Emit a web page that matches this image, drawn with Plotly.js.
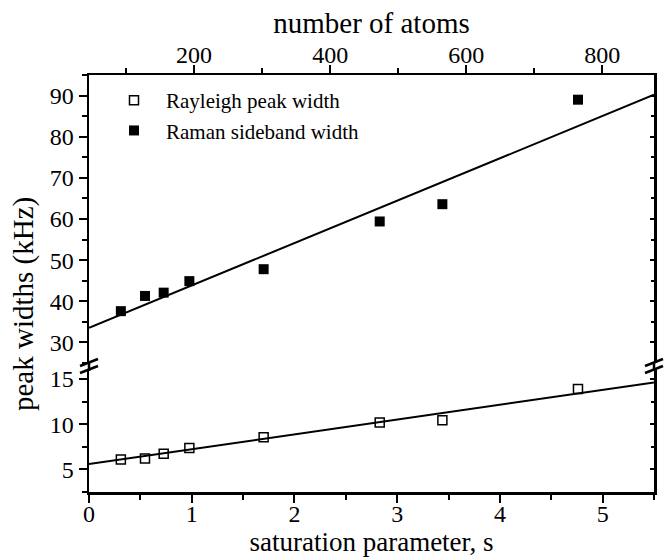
<!DOCTYPE html>
<html>
<head>
<meta charset="utf-8">
<script src="https://cdn.plot.ly/plotly-3.0.1.min.js"></script>
<style>html,body{margin:0;padding:0;background:#fff;}#chart{width:670px;height:558px;}</style>
</head>
<body>
<div id="chart"></div>
<script>
// ---- data ----
var satParam = [0.31, 0.545, 0.727, 0.977, 1.70, 2.83, 3.44, 4.76];
var rayleighWidth = [6.1, 6.22, 6.74, 7.37, 8.56, 10.2, 10.44, 13.9];
var ramanWidth = [37.6, 41.3, 42.1, 44.9, 47.8, 59.4, 63.6, 89.0];
var fitS = [0, 5.5];
var rayleighFit = [5.59, 14.63];
var ramanFit = [33.55, 90.2];
var sRange = [0, 5.5];
var atomsRange = [45.6, 876];
var upperRange = [25, 95];
var lowerRange = [2.5, 16];

var FONT = 'Liberation Serif';
var L = 89, R = 654, T = 75, B = 492, W = 670, H = 558;
function px(x) { return (x - L) / (R - L); }
function py(y) { return (B - y) / (B - T); }

var upperBottom = py(363), lowerTop = py(370);

var traces = [
  {x: satParam, y: rayleighWidth, xaxis: 'x', yaxis: 'y2', mode: 'markers', type: 'scatter',
   name: 'Rayleigh peak width',
   marker: {symbol: 'square-open', size: 9, color: '#000', line: {width: 1.5, color: '#000'}}},
  {x: satParam, y: ramanWidth, xaxis: 'x', yaxis: 'y', mode: 'markers', type: 'scatter',
   name: 'Raman sideband width',
   marker: {symbol: 'square', size: 10, color: '#000'}},
  {x: fitS, y: rayleighFit, xaxis: 'x', yaxis: 'y2', mode: 'lines', type: 'scatter',
   showlegend: false, line: {color: '#000', width: 2}, hoverinfo: 'skip'},
  {x: fitS, y: ramanFit, xaxis: 'x', yaxis: 'y', mode: 'lines', type: 'scatter',
   showlegend: false, line: {color: '#000', width: 2}, hoverinfo: 'skip'},
  // empty traces so the secondary axes (top atoms axis, right-hand ticks) are drawn
  {x: [], y: [], xaxis: 'x2', yaxis: 'y', type: 'scatter', mode: 'markers', showlegend: false, hoverinfo: 'skip'},
  {x: [], y: [], xaxis: 'x', yaxis: 'y3', type: 'scatter', mode: 'markers', showlegend: false, hoverinfo: 'skip'},
  {x: [], y: [], xaxis: 'x', yaxis: 'y4', type: 'scatter', mode: 'markers', showlegend: false, hoverinfo: 'skip'}
];

var axLine = {showline: true, linecolor: '#000', linewidth: 2.5, showgrid: false, zeroline: false,
  ticks: 'outside', ticklen: 8, tickwidth: 2, tickcolor: '#000',
  tickfont: {family: FONT, size: 24, color: '#000'}};

function ax(extra) { return Object.assign({}, axLine, extra); }
function minorT(d) { return {dtick: d, ticks: 'outside', ticklen: 5, tickwidth: 2, tickcolor: '#000'}; }

var shapes = [];
function seg(x0, y0, x1, y1) {
  shapes.push({type: 'line', xref: 'paper', yref: 'paper', x0: px(x0), y0: py(y0), x1: px(x1), y1: py(y1),
    line: {color: '#000', width: 2.5}});
}
// continuous frame through the break gap
seg(L, 362, L, 371);
seg(R, 362, R, 371);
// break marks
seg(80, 366, 98, 359);
seg(80, 373, 98, 366);
seg(R - 9, 366, R + 9, 359);
seg(R - 9, 373, R + 9, 366);

var rightTicks = {showline: false, showgrid: false, zeroline: false, side: 'right', anchor: 'x',
  ticks: 'inside', ticklen: 4, tickwidth: 2, tickcolor: '#000', showticklabels: false};

var layout = {
  width: W, height: H,
  margin: {l: L, r: W - R, t: T, b: H - B, pad: 0},
  paper_bgcolor: '#fff', plot_bgcolor: 'rgba(0,0,0,0)',
  font: {family: FONT, color: '#000'},
  showlegend: true,
  legend: {x: px(102), y: py(80), xanchor: 'left', yanchor: 'top', bgcolor: 'rgba(0,0,0,0)',
    font: {family: FONT, size: 21, color: '#000'}, traceorder: 'normal', itemwidth: 54},
  xaxis: ax({domain: [0, 1], range: sRange, anchor: 'y2', side: 'bottom', dtick: 1, tick0: 0,
    minor: minorT(0.5), ticklabelstandoff: -9,
    title: {text: 'saturation parameter, s', font: {family: FONT, size: 27, color: '#000'}, standoff: 4}}),
  xaxis2: ax({overlaying: 'x', range: atomsRange, anchor: 'y', side: 'top', dtick: 200, tick0: 0,
    minor: minorT(100), ticklabelstandoff: -8,
    title: {text: 'number of atoms', font: {family: FONT, size: 29, color: '#000'}, standoff: 0}}),
  yaxis: ax({domain: [upperBottom, 1], range: upperRange, anchor: 'x', dtick: 10, tick0: 0, mirror: true,
    minor: minorT(5)}),
  yaxis2: ax({domain: [0, lowerTop], range: lowerRange, anchor: 'x', dtick: 5, tick0: 0, mirror: true,
    minor: minorT(2.5)}),
  yaxis3: Object.assign({}, rightTicks, {overlaying: 'y', range: upperRange, dtick: 10, tick0: 0,
    minor: {dtick: 5, ticks: 'inside', ticklen: 3, tickwidth: 2, tickcolor: '#000'}}),
  yaxis4: Object.assign({}, rightTicks, {overlaying: 'y2', range: lowerRange, dtick: 5, tick0: 0,
    minor: {dtick: 2.5, ticks: 'inside', ticklen: 3, tickwidth: 2, tickcolor: '#000'}}),
  shapes: shapes,
  annotations: [{
    xref: 'paper', yref: 'paper', x: px(23), y: py(304), xanchor: 'center', yanchor: 'middle',
    text: 'peak widths (kHz)', textangle: -90, showarrow: false,
    font: {family: FONT, size: 29, color: '#000'}
  }]
};

Plotly.newPlot('chart', traces, layout, {staticPlot: true, displayModeBar: false});
</script>
</body>
</html>
